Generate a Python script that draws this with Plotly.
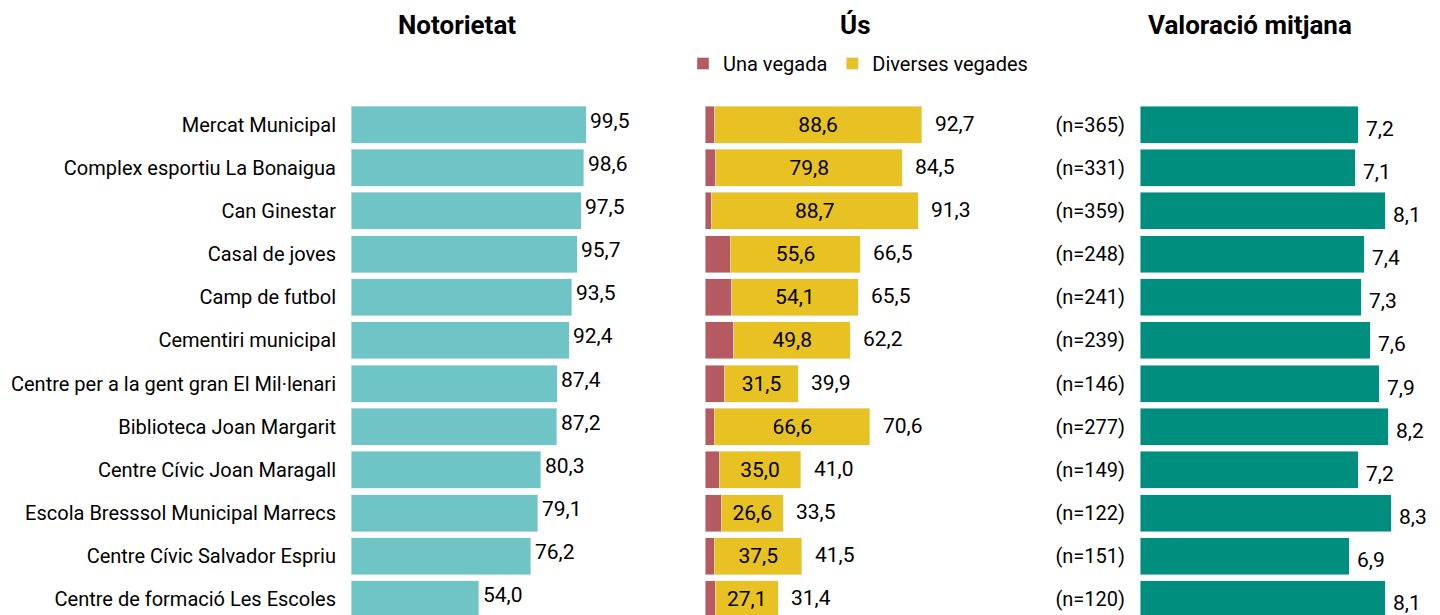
import plotly.graph_objects as go

categories = [
    "Mercat Municipal",
    "Complex esportiu La Bonaigua",
    "Can Ginestar",
    "Casal de joves",
    "Camp de futbol",
    "Cementiri municipal",
    "Centre per a la gent gran El Mil·lenari",
    "Biblioteca Joan Margarit",
    "Centre Cívic Joan Maragall",
    "Escola Bresssol Municipal Marrecs",
    "Centre Cívic Salvador Espriu",
    "Centre de formació Les Escoles",
]
notorietat = [99.5, 98.6, 97.5, 95.7, 93.5, 92.4, 87.4, 87.2, 80.3, 79.1, 76.2, 54.0]
us_total = [92.7, 84.5, 91.3, 66.5, 65.5, 62.2, 39.9, 70.6, 41.0, 33.5, 41.5, 31.4]
us_diverses = [88.6, 79.8, 88.7, 55.6, 54.1, 49.8, 31.5, 66.6, 35.0, 26.6, 37.5, 27.1]
us_una = [round(t - d, 1) for t, d in zip(us_total, us_diverses)]
valoracio = [7.2, 7.1, 8.1, 7.4, 7.3, 7.6, 7.9, 8.2, 7.2, 8.3, 6.9, 8.1]
n_labels = ["(n=365)", "(n=331)", "(n=359)", "(n=248)", "(n=241)", "(n=239)",
            "(n=146)", "(n=277)", "(n=149)", "(n=122)", "(n=151)", "(n=120)"]

FONT = "Roboto, Liberation Sans, sans-serif"
C_NOT = "#6FC5C5"
C_UNA = "#B45A60"
C_DIV = "#E8C123"
C_VAL = "#008E7F"

# page has an 8px body margin: figure coords = page coords - 8
OFF = 8
W, H = 1440 - OFF, 615 - OFF
fmt = lambda v: f"{v:.1f}".replace(".", ",")
px = lambda xp: (xp - OFF) / W
py = lambda yp: 1 - (yp - OFF) / H

fig = go.Figure()

fig.add_trace(go.Bar(y=categories, x=notorietat, orientation="h", marker_color=C_NOT,
                     width=0.857, showlegend=False, xaxis="x", yaxis="y", hoverinfo="skip"))
fig.add_trace(go.Bar(y=categories, x=us_una, orientation="h", marker_color=C_UNA,
                     width=0.857, name="Una vegada", xaxis="x2", yaxis="y2", hoverinfo="skip"))
fig.add_trace(go.Bar(y=categories, x=us_diverses, orientation="h", marker_color=C_DIV,
                     width=0.857, name="Diverses vegades", xaxis="x2", yaxis="y2",
                     text=[fmt(v) for v in us_diverses], textposition="inside",
                     insidetextanchor="middle", textangle=0,
                     textfont=dict(family=FONT, size=21, color="black"), hoverinfo="skip"))
fig.add_trace(go.Bar(y=categories, x=valoracio, orientation="h", marker_color=C_VAL,
                     width=0.857, showlegend=False, xaxis="x3", yaxis="y3", hoverinfo="skip"))

annotations = []
for c, v in zip(categories, notorietat):
    annotations.append(dict(x=v, y=c, xref="x", yref="y", text=fmt(v), showarrow=False,
                            xanchor="left", xshift=2, yshift=4,
                            font=dict(family=FONT, size=21, color="black")))
for c, v in zip(categories, us_total):
    annotations.append(dict(x=v, y=c, xref="x2", yref="y2", text=fmt(v), showarrow=False,
                            xanchor="left", xshift=11, yshift=1,
                            font=dict(family=FONT, size=21, color="black")))
for c, v in zip(categories, valoracio):
    annotations.append(dict(x=v, y=c, xref="x3", yref="y3", text=fmt(v), showarrow=False,
                            xanchor="left", xshift=6, yshift=-4,
                            font=dict(family=FONT, size=21, color="black")))

titles = [("Notorietat", 457), ("Ús", 855), ("Valoració mitjana", 1250)]
for t, xp in titles:
    annotations.append(dict(x=px(xp), y=py(25), xref="paper", yref="paper", text=f"<b>{t}</b>",
                            showarrow=False, xanchor="center", yanchor="middle",
                            font=dict(family=FONT, size=26, color="black")))

row0, pitch = 124.5 - OFF, 43.18
y_top = -row0 / pitch
y_bot = (H - row0) / pitch
yrange = [y_bot, y_top]

def xaxis(start, end, scale):
    return dict(domain=[px(start), px(end)], range=[0, (end - start) / scale],
                showgrid=False, zeroline=False, showticklabels=False, showline=False,
                fixedrange=True, automargin=False)

fig.update_layout(
    width=W, height=H,
    margin=dict(l=0, r=0, t=0, b=0, autoexpand=False),
    paper_bgcolor="white", plot_bgcolor="white",
    barmode="stack", bargap=0.15,
    separators=",.",
    font=dict(family=FONT, size=20, color="black"),
    xaxis=xaxis(351, 660, 2.362),
    xaxis2=dict(**xaxis(705, 1010, 2.337), anchor="y2"),
    xaxis3=dict(**xaxis(1140, 1440, 30.3), anchor="y3"),
    yaxis=dict(domain=[0, 1], range=yrange, type="category", categoryarray=categories,
               anchor="x", showgrid=False, zeroline=False, showline=False, automargin=False,
               ticks="", ticklabelstandoff=14, tickfont=dict(family=FONT, size=20, color="black")),
    yaxis2=dict(domain=[0, 1], range=yrange, type="category", categoryarray=categories,
                anchor="x2", showgrid=False, zeroline=False, showline=False, automargin=False,
                showticklabels=False, ticks=""),
    yaxis3=dict(domain=[0, 1], range=yrange, type="category", categoryarray=categories,
                anchor="x3", showgrid=False, zeroline=False, showline=False, ticks="",
                automargin=False, tickmode="array", tickvals=categories, ticktext=n_labels,
                ticklabelstandoff=14, tickfont=dict(family=FONT, size=20, color="black")),
    legend=dict(orientation="h", x=px(683), y=py(44), xanchor="left", yanchor="top",
                font=dict(family=FONT, size=20, color="black"), bgcolor="rgba(0,0,0,0)",
                itemwidth=30, traceorder="normal"),
    annotations=annotations,
)

fig.write_html("out.html")
